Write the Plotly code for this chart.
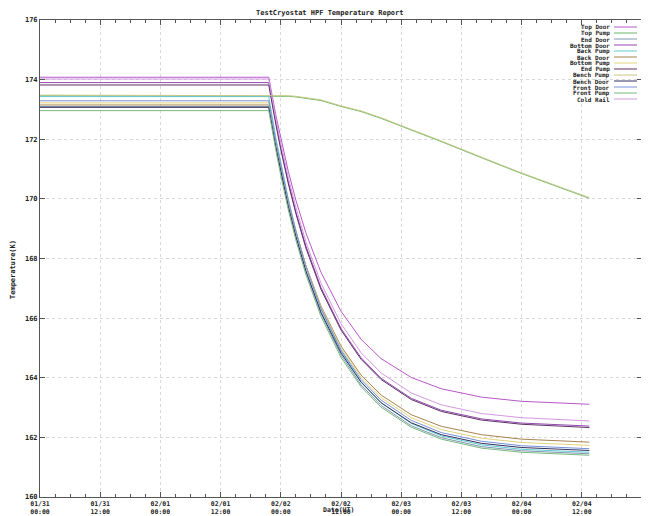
import plotly.graph_objects as go

times = ["2014-01-31 00:00", "2014-02-01 21:36", "2014-02-01 23:00", "2014-02-02 00:00",
         "2014-02-02 01:30", "2014-02-02 03:00", "2014-02-02 05:00", "2014-02-02 08:00",
         "2014-02-02 12:00", "2014-02-02 16:00", "2014-02-02 20:00", "2014-02-03 02:00",
         "2014-02-03 08:00", "2014-02-03 16:00", "2014-02-04 00:00", "2014-02-04 13:30"]

top_door    = [174.08, 174.08, 172.82, 172.01, 170.92, 169.96, 168.86, 167.54, 166.23, 165.29, 164.64, 164.01, 163.63, 163.35, 163.21, 163.11]
top_pump    = [173.46, 173.46, 173.46, 173.45, 173.44, 173.42, 173.38, 173.30, 173.10, 172.93, 172.70, 172.32, 171.92, 171.38, 170.85, 170.02]
end_door    = [173.10, 173.10, 171.77, 170.90, 169.74, 168.72, 167.55, 166.15, 164.76, 163.76, 163.07, 162.39, 161.99, 161.69, 161.55, 161.45]
bottom_door = [173.90, 173.90, 172.58, 171.72, 170.58, 169.57, 168.42, 167.03, 165.65, 164.67, 163.98, 163.31, 162.91, 162.62, 162.48, 162.38]
back_pump   = [173.43, 173.43, 172.06, 171.18, 169.99, 168.95, 167.75, 166.31, 164.89, 163.87, 163.16, 162.47, 162.05, 161.75, 161.60, 161.50]
back_door   = [173.15, 173.15, 171.86, 171.02, 169.89, 168.91, 167.77, 166.41, 165.06, 164.09, 163.42, 162.76, 162.37, 162.09, 161.94, 161.84]
bottom_pump = [173.22, 173.22, 171.90, 171.05, 169.91, 168.90, 167.75, 166.37, 164.99, 164.01, 163.33, 162.66, 162.26, 161.97, 161.83, 161.73]
end_pump    = [173.82, 173.82, 172.51, 171.65, 170.51, 169.51, 168.35, 166.97, 165.60, 164.62, 163.94, 163.27, 162.87, 162.58, 162.44, 162.33]
bench_pump  = [173.48, 173.48, 173.48, 173.47, 173.46, 173.44, 173.40, 173.32, 173.12, 172.95, 172.72, 172.34, 171.94, 171.40, 170.87, 170.04]
bench_door  = [173.07, 173.07, 171.75, 170.90, 169.75, 168.75, 167.59, 166.20, 164.83, 163.85, 163.16, 162.49, 162.09, 161.80, 161.66, 161.56]
front_door  = [173.29, 173.29, 171.95, 171.09, 169.93, 168.91, 167.73, 166.33, 164.93, 163.94, 163.25, 162.57, 162.16, 161.87, 161.72, 161.62]
front_pump  = [172.96, 172.96, 171.64, 170.78, 169.63, 168.62, 167.46, 166.06, 164.68, 163.70, 163.01, 162.34, 161.94, 161.64, 161.50, 161.40]
cold_rail   = [174.02, 174.02, 172.71, 171.86, 170.72, 169.72, 168.56, 167.18, 165.81, 164.84, 164.16, 163.49, 163.09, 162.80, 162.66, 162.55]

names = ["Top Door", "Top Pump", "End Door", "Bottom Door", "Back Pump", "Back Door",
         "Bottom Pump", "End Pump", "Bench Pump", "Bench Door", "Front Door", "Front Pump", "Cold Rail"]
series = [top_door, top_pump, end_door, bottom_door, back_pump, back_door,
          bottom_pump, end_pump, bench_pump, bench_door, front_door, front_pump, cold_rail]
colors = ["#b858c8", "#68b868", "#8098b0", "#9048b0", "#60c8d0", "#a88450",
          "#e0d47a", "#603068", "#c8c884", "#303060", "#7890d8", "#78b880", "#d498e0"]

y_ticks = [160, 162, 164, 166, 168, 170, 172, 174, 176]

fig = go.Figure()
for name, vals, col in zip(names, series, colors):
    fig.add_trace(go.Scatter(x=times, y=vals, mode="lines", name=name,
                             line=dict(color=col, width=1), showlegend=False))

font = dict(family="DejaVu Sans Mono", size=7, color="#222222", weight="bold")
xfont = dict(family="DejaVu Sans Mono", size=6.5, color="#222222", weight="bold")
kfont = dict(family="DejaVu Sans Mono", size=6, color="#222222", weight="bold")

# page has an 8px body margin: the figure is placed at (8, 8)
annotations = []
shapes = []
W0, W1 = 40, 642   # plot area, page pixels
H0, H1 = 20, 497
def px(x):
    return (x - W0) / (W1 - W0)
def py(y):
    return (H1 - y) / (H1 - H0)
for i, (name, col) in enumerate(zip(names, colors)):
    yy = 27.0 + i * 6.0
    annotations.append(dict(x=px(611), y=py(yy), xref="paper", yref="paper", text=name,
                            showarrow=False, xanchor="right", yanchor="middle", font=kfont,
                            borderpad=0))
    shapes.append(dict(type="line", xref="paper", yref="paper", x0=px(614), x1=px(637),
                       y0=py(yy), y1=py(yy), line=dict(color=col, width=1)))

annotations.append(dict(x=px(330), y=py(13), xref="paper", yref="paper",
                        text="TestCryostat HPF Temperature Report", showarrow=False,
                        xanchor="center", yanchor="middle", font=font, borderpad=0))
annotations.append(dict(x=px(13), y=py(270), xref="paper", yref="paper", text="Temperature(K)",
                        showarrow=False, textangle=-90, xanchor="center", yanchor="middle", font=font))
annotations.append(dict(x=px(338), y=py(510), xref="paper", yref="paper", text="Date(UT)",
                        showarrow=False, xanchor="center", yanchor="middle", font=xfont,
                        borderpad=0))

fig.update_layout(
    width=641, height=508,
    margin=dict(l=32, r=7, t=12, b=19, autoexpand=False),
    paper_bgcolor="white", plot_bgcolor="white",
    annotations=annotations, shapes=shapes,
    xaxis=dict(type="date", range=["2014-01-31 00:00", "2014-02-05 00:00"],
               dtick=43200000, tick0="2014-01-31 00:00", tickformat="%m/%d<br>%H:%M",
               tickfont=xfont, ticks="inside", ticklen=5, tickcolor="#555",
               showline=True, linecolor="#555", linewidth=1, mirror="ticks",
               showgrid=True, gridcolor="#d8d8d8", griddash="dot", gridwidth=1,
               minor=dict(dtick=10800000, ticks="inside", ticklen=3, tickcolor="#555", showgrid=False),
               zeroline=False, automargin=False, ticklabelstandoff=0),
    yaxis=dict(range=[160, 176], tickvals=y_ticks, ticktext=[str(v) for v in y_ticks],
               tickfont=font, ticks="inside", ticklen=5, tickcolor="#555",
               showline=True, linecolor="#555", linewidth=1, mirror="ticks",
               showgrid=True, gridcolor="#d8d8d8", griddash="dot", gridwidth=1,
               zeroline=False, automargin=False),
)

fig.write_html("out.html")
